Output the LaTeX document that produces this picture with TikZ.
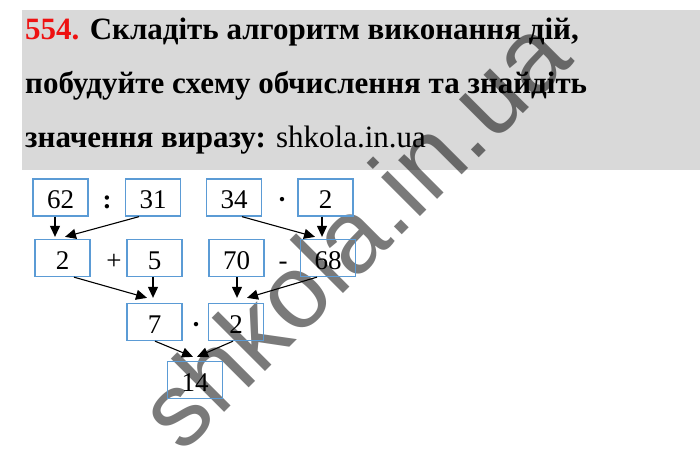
\documentclass[tikz,border=0pt]{standalone}
\usepackage{fontspec}
\setmainfont{Liberation Serif}
\newfontfamily\wmfont{Liberation Sans}
\usetikzlibrary{arrows.meta}
\definecolor{hdrgray}{HTML}{D9D9D9}
\definecolor{boxblue}{HTML}{5B9BD5}
\definecolor{numred}{HTML}{EE1111}
\tikzset{
  numbox/.style={draw=boxblue, line width=1.3pt, minimum width=55pt, minimum height=37pt,
    inner sep=0pt, text height=22.5pt, text depth=0pt, font=\fontsize{27}{27}\selectfont},
  opsym/.style={anchor=base, inner sep=0pt, font=\fontsize{27}{27}\selectfont},
  hdrline/.style={anchor=base west, inner sep=0pt, font=\fontsize{31}{31}\selectfont\bfseries},
  arr/.style={line width=1.1pt, -{Triangle[length=11pt,width=10pt]}},
}
\begin{document}
\begin{tikzpicture}[x=1pt,y=-1pt]
\useasboundingbox (0,0) rectangle (700,471);
% header background
\fill[hdrgray] (22,10) rectangle (700,170);
% watermark
\node[rotate=45, anchor=base, inner sep=0pt, text=black, text opacity=0.52,
  font=\wmfont\fontsize{104}{104}\selectfont] (wm) at (379,258) {shkola.in.ua};
% header text
\node[hdrline] (h1) at (25,39) {\textcolor{numred}{554.} Складіть алгоритм виконання дій,};
\node[hdrline] (h2) at (25,93) {побудуйте схему обчислення та знайдіть};
\node[hdrline] (h3) at (25,147) {значення виразу: \mdseries shkola.in.ua};
% row 1
\node[numbox] (a62) at (60.5,197.5) {62};
\node[numbox] (a31) at (153,197.5) {31};
\node[numbox] (a34) at (234,197.5) {34};
\node[numbox] (a2)  at (325.5,197.5) {2};
\node[opsym] (o1) at (107,208.5) {\textbf{:}};
\node[opsym] (o2) at (282,208.5) {\textbf{·}};
% row 2
\node[numbox] (b2)  at (62.5,258) {2};
\node[numbox] (b5)  at (154.5,258) {5};
\node[numbox] (b70) at (236.5,258) {70};
\node[numbox] (b68) at (328,258) {68};
\node[opsym] (o3) at (114,269) {+};
\node[opsym] (o4) at (283,269) {-};
% row 3
\node[numbox] (c7) at (154.5,322) {7};
\node[numbox] (c2) at (236,322) {2};
\node[opsym] (o5) at (196,333) {\textbf{·}};
% row 4
\node[numbox] (d14) at (195,380) {14};
% arrows
\draw[arr] ([xshift=-5.5pt]a62.south) -- ([xshift=-7.5pt,yshift=2pt]b2.north);
\draw[arr] ([xshift=-14pt]a31.south) -- ([xshift=2.5pt,yshift=2pt]b2.north);
\draw[arr] ([xshift=8pt]a34.south) -- ([xshift=-13pt,yshift=2pt]b68.north);
\draw[arr] ([xshift=-3.5pt]a2.south) -- ([xshift=-6pt,yshift=2pt]b68.north);
\draw[arr] ([xshift=11.5pt]b2.south) -- ([xshift=-7.5pt,yshift=5pt]c7.north);
\draw[arr] ([xshift=-1.5pt]b5.south) -- ([xshift=-1.5pt,yshift=5pt]c7.north);
\draw[arr] ([xshift=0.5pt]b70.south) -- ([xshift=1pt,yshift=5pt]c2.north);
\draw[arr] ([xshift=-11pt]b68.south) -- ([xshift=11pt,yshift=5pt]c2.north);
\draw[arr] ([xshift=0.5pt]c7.south) -- ([xshift=-2pt,yshift=4pt]d14.north);
\draw[arr] ([xshift=-3pt]c2.south) -- ([xshift=2pt,yshift=4pt]d14.north);
\end{tikzpicture}
\end{document}
